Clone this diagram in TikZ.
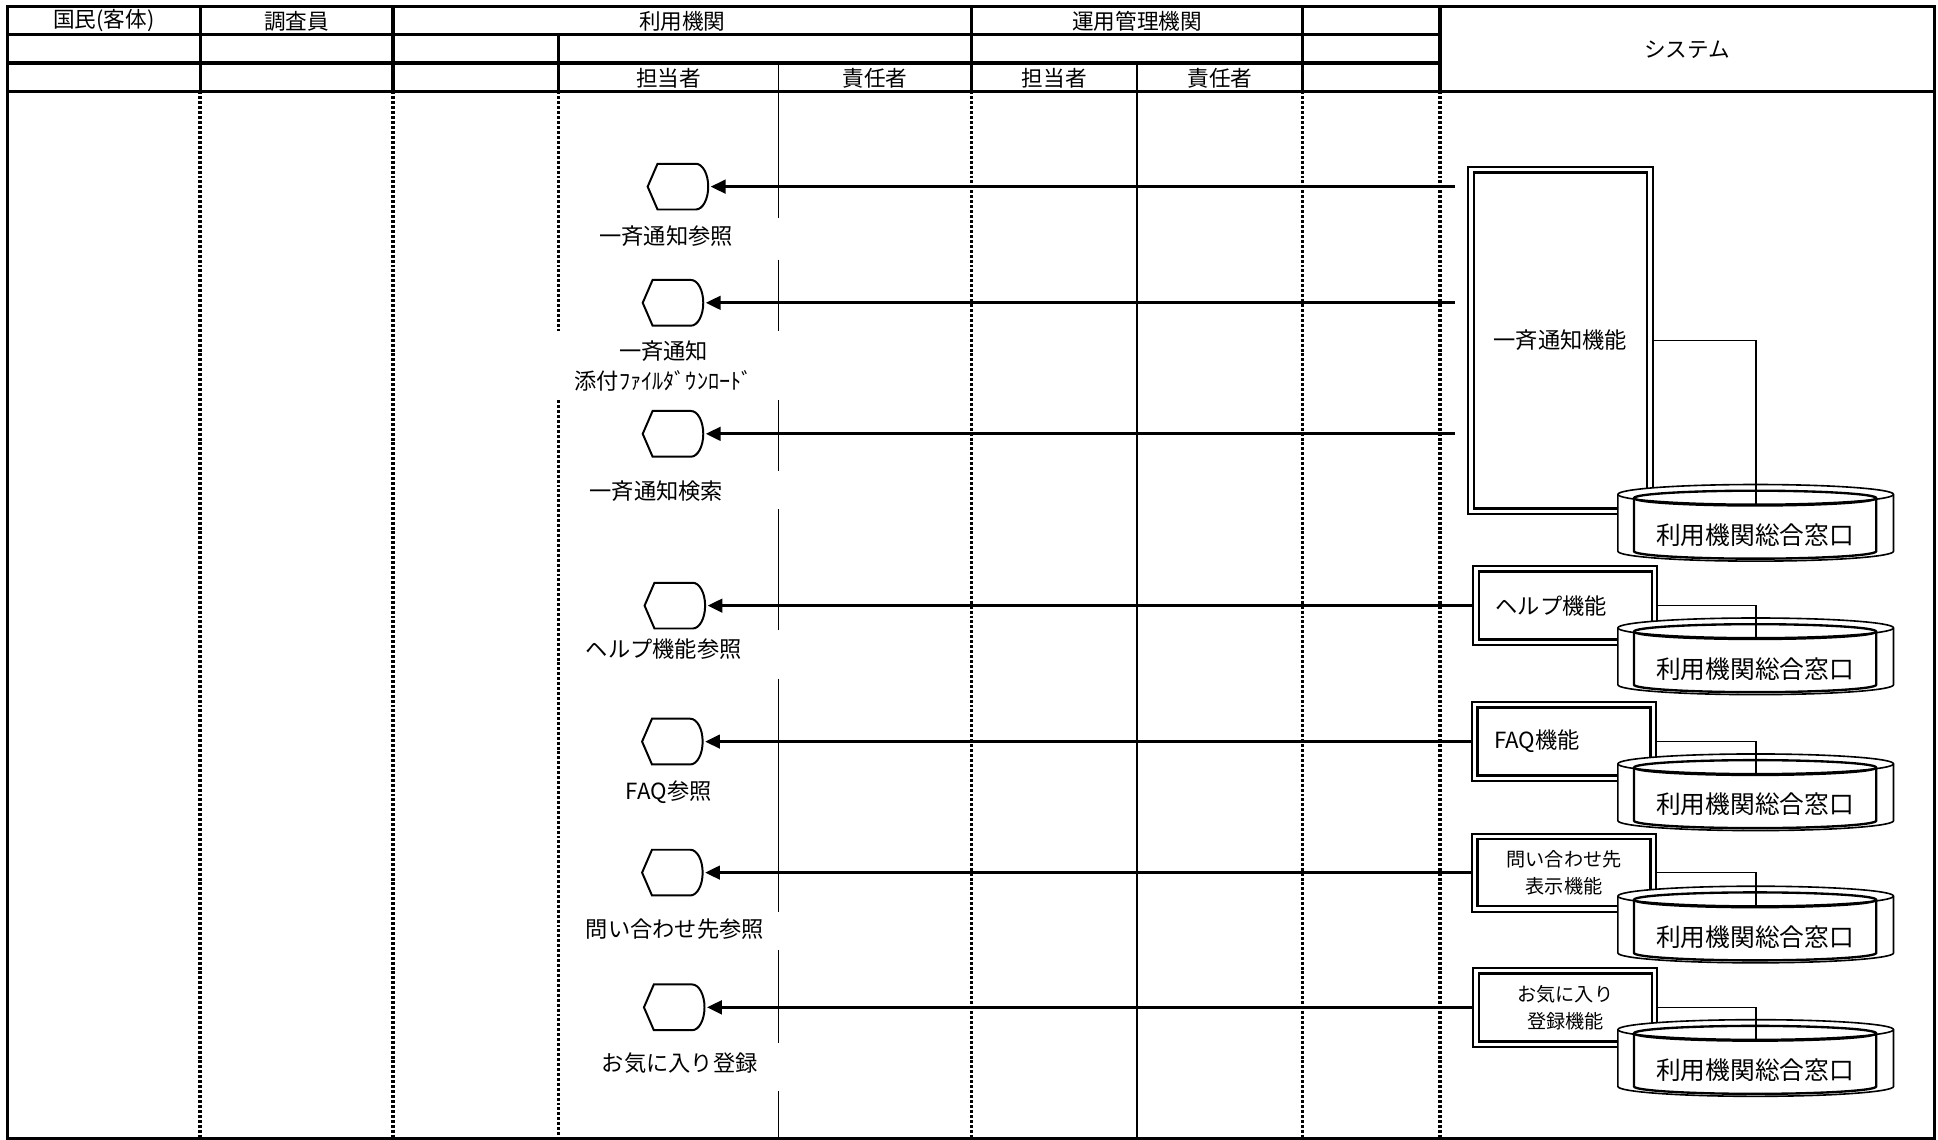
\documentclass[tikz,border=0pt]{standalone}
\usepackage{fontspec}
\newfontfamily\jp{Noto Sans CJK JP}
\usetikzlibrary{arrows.meta}
\newcommand\dispshape[3]{%
  \node[dispbox] (#1) at (#2,#3) {};
  \draw[displine] (#1.west) -- ([xshift=8pt]#1.north west) -- ([xshift=-10pt]#1.north east)
    arc[start angle=90,end angle=-90,x radius=10pt,y radius=18.5pt]
    -- ([xshift=8pt]#1.south west) -- cycle;}
\newcommand\cylshape[3]{%
  \begin{scope}[shift={(0,#2)}]
    \draw[line width=1.3pt, fill=white] (1309,8) -- (1309,54)
      arc[start angle=180,end angle=360,x radius=111.5pt,y radius=8pt] -- (1532,8)
      arc[start angle=0,end angle=180,x radius=111.5pt,y radius=8pt] -- cycle;
    \draw[line width=1.3pt] (1309,8) arc[start angle=180,end angle=360,x radius=111.5pt,y radius=8pt];
    \draw[line width=1.9pt] (1322,11) -- (1322,54)
      arc[start angle=180,end angle=360,x radius=98pt,y radius=6pt] -- (1518,11)
      arc[start angle=0,end angle=180,x radius=98pt,y radius=6pt] -- cycle;
    \draw[line width=1.9pt] (1322,11) arc[start angle=180,end angle=360,x radius=98pt,y radius=6pt];
    \node[cyltxt] (#1) at (1420,41) {#3};
    \coordinate (#1top) at (1420.5,17);
  \end{scope}}
\newcommand\innerrect[1]{%
  \draw[line width=2pt] ([shift={(4.5,4.5)}]#1.north west) rectangle ([shift={(-4.5,-4.5)}]#1.south east);}
\begin{document}
\begin{tikzpicture}[x=1pt,y=-1pt,
  hdr/.style={font=\jp\fontsize{17.5pt}{20pt}\selectfont, inner sep=0pt},
  lbl/.style={font=\jp\fontsize{18pt}{24pt}\selectfont, inner sep=0pt, align=center},
  cyltxt/.style={font=\jp\fontsize{20pt}{24pt}\selectfont, inner sep=0pt},
  fbx/.style={draw, line width=1.6pt, fill=white, inner sep=0pt, outer sep=0pt,
    font=\jp\fontsize{18pt}{22pt}\selectfont, align=center},
  fbxs/.style={fbx, font=\jp\fontsize{15.5pt}{22pt}\selectfont},
  thk/.style={line width=2.6pt},
  thn/.style={line width=1.3pt},
  dotl/.style={line width=2.8pt, dash pattern=on 2.4pt off 1.6pt},
  dispbox/.style={minimum width=49pt, minimum height=37pt, inner sep=0pt, outer sep=0pt},
  displine/.style={draw, line width=1.6pt, fill=white},
  arr/.style={line width=2.2pt, -{Triangle[length=12pt,width=11pt]}, shorten >=2pt},
]
\useasboundingbox (0,0) rectangle (1568,922);
% header grid
\draw[thk] (6,28) -- (1165,28);
\draw[thk] (6,51) -- (1165,51);
\draw[thk] (6,74) -- (1565,74);
\foreach \x in {162,318,786,1054,1165} \draw[thk] (\x,5) -- (\x,74);
\draw[thk] (452,28) -- (452,74);
\draw[thn] (630,51) -- (630,74);
\draw[thn] (920,51) -- (920,74);
% header texts
\node[hdr] (h1) at (84,17) {国民(客体)};
\node[hdr] (h2) at (240,17) {調査員};
\node[hdr] (h3) at (552,17) {利用機関};
\node[hdr] (h4) at (920,17) {運用管理機関};
\node[hdr] (h5) at (1365,40) {システム};
\node[hdr] (h6) at (541,63) {担当者};
\node[hdr] (h7) at (708,63) {責任者};
\node[hdr] (h8) at (853,63) {担当者};
\node[hdr] (h9) at (987,63) {責任者};
% lanes
\foreach \x in {162,318,786,1054,1165} \draw[dotl] (\x,74) -- (\x,921);
\draw[dotl] (452,74) -- (452,268);
\draw[dotl] (452,324) -- (452,921);
\foreach \a/\b in {74/176,210/268,324/381,412/510,549/738,769/844,883/921}
  \draw[thn] (630,\a) -- (630,\b);
\draw[thn] (920,74) -- (920,921);
% display shapes
\dispshape{d1}{548.5}{151}
\dispshape{d2}{544.5}{245}
\dispshape{d3}{544.5}{351}
\dispshape{d4}{546}{490}
\dispshape{d5}{544}{600}
\dispshape{d6}{544}{706}
\dispshape{d7}{545.5}{815}
% labels
\node[lbl] (l1) at (539,191) {一斉通知参照};
\node[lbl] (l2) at (537,296) {一斉通知\\添付ﾌｧｲﾙﾀﾞｳﾝﾛｰﾄﾞ};
\node[lbl] (l3) at (531,397) {一斉通知検索};
\node[lbl] (l4) at (537,525) {ヘルプ機能参照};
\node[lbl] (l5) at (541,641) {FAQ参照};
\node[lbl] (l6) at (546,752) {問い合わせ先参照};
\node[lbl] (l7) at (550,860) {お気に入り登録};
% function boxes
\node[fbx, minimum width=149pt, minimum height=281pt] (f1) at (1262.5,275.5) {一斉通知機能};
\innerrect{f1}
\node[fbx, minimum width=149pt, minimum height=64pt, text width=113pt, align=left] (f2) at (1266.5,490) {ヘルプ機能};
\innerrect{f2}
\node[fbx, minimum width=149pt, minimum height=64pt, text width=113pt, align=left] (f3) at (1265.5,600) {FAQ機能};
\innerrect{f3}
\node[fbxs, minimum width=149pt, minimum height=63pt] (f4) at (1265.5,706) {問い合わせ先\\表示機能};
\innerrect{f4}
\node[fbxs, minimum width=149pt, minimum height=64pt] (f5) at (1266.5,815) {お気に入り\\登録機能};
\innerrect{f5}
% cylinders
\cylshape{c1}{392}{利用機関総合窓口}
\cylshape{c2}{500}{利用機関総合窓口}
\cylshape{c3}{610}{利用機関総合窓口}
\cylshape{c4}{717}{利用機関総合窓口}
\cylshape{c5}{825}{利用機関総合窓口}
% box to cylinder links
\draw[thn] (f1.east) -| (c1top);
\draw[thn] (f2.east) -| (c2top);
\draw[thn] (f3.east) -| (c3top);
\draw[thn] (f4.east) -| (c4top);
\draw[thn] (f5.east) -| (c5top);
% arrows
\coordinate (s1) at (1177,151);
\coordinate (s2) at (1177,245);
\coordinate (s3) at (1177,351);
\draw[arr] (s1) -- (d1.east);
\draw[arr] (s2) -- (d2.east);
\draw[arr] (s3) -- (d3.east);
\draw[arr] (f2.west) -- (d4.east);
\draw[arr] (f3.west) -- (d5.east);
\draw[arr] (f4.west) -- (d6.east);
\draw[arr] (f5.west) -- (d7.east);
% outer frame
\draw[thk] (6,5) rectangle (1565,921);
\end{tikzpicture}
\end{document}
